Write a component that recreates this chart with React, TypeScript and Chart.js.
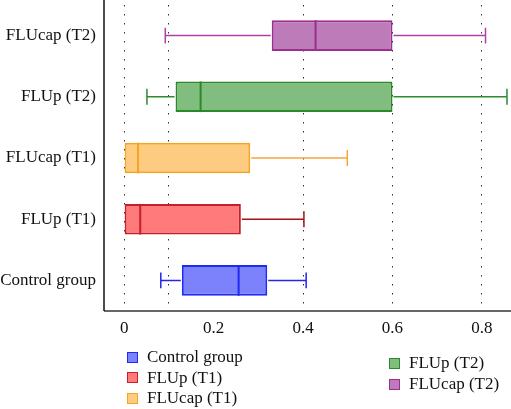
import React, { useEffect, useRef } from "react";
import { Chart, registerables } from "chart.js";

Chart.register(...registerables);

// Categories listed bottom-to-top (axis is reversed)
const categories = ["Control group", "FLUp (T1)", "FLUcap (T1)", "FLUp (T2)", "FLUcap (T2)"];
const whiskerMin = [0.082, 0.0, 0.0, 0.051, 0.092];
const q1 = [0.129, 0.0, 0.0, 0.115, 0.330];
const median = [0.256, 0.036, 0.031, 0.171, 0.428];
const q3 = [0.320, 0.261, 0.282, 0.600, 0.600];
const whiskerMax = [0.407, 0.402, 0.499, 0.856, 0.808];

const tickLabelValues = [0, 0.2, 0.4, 0.6, 0.8];
const gridValues = [0, 0.1, 0.4, 0.6, 0.8];

const fillColors = ["#7b82fb", "#ff7b7b", "#fdcc80", "#80bd7e", "#bd7bb9"];
const borderColors = ["#1f2bef", "#c81e2a", "#f5a524", "#2a8a2a", "#9b2f8f"];
const whiskerColors = ["#2424ee", "#a8101a", "#f5a53a", "#2e8b2e", "#b040a8"];

const legendCol1 = [0, 1, 2];
const legendCol2 = [3, 4];

const FONT = "'Liberation Serif', 'Times New Roman', serif";
const FONT_SIZE = 17;

const whiskerPlugin = {
  id: "whiskers",
  afterDatasetsDraw(chart: any) {
    const ctx = chart.ctx;
    const xs = chart.scales.x;
    const ys = chart.scales.y;
    const meta = chart.getDatasetMeta(0);
    ctx.save();
    categories.forEach((_, i) => {
      const bar = meta.data[i];
      const y = ys.getPixelForValue(i);
      const half = bar ? bar.height / 2 : 15;
      const cap = half * 0.52;
      const xMin = xs.getPixelForValue(whiskerMin[i]);
      const xQ1 = xs.getPixelForValue(q1[i]);
      const xQ3 = xs.getPixelForValue(q3[i]);
      const xMax = xs.getPixelForValue(whiskerMax[i]);
      const xMed = xs.getPixelForValue(median[i]);
      ctx.strokeStyle = whiskerColors[i];
      ctx.lineWidth = 1.5;
      ctx.beginPath();
      if (whiskerMin[i] < q1[i]) {
        ctx.moveTo(xMin, y);
        ctx.lineTo(xQ1 - 1, y);
        ctx.moveTo(xMin, y - cap);
        ctx.lineTo(xMin, y + cap);
      }
      if (whiskerMax[i] > q3[i]) {
        ctx.moveTo(xQ3 + 1, y);
        ctx.lineTo(xMax, y);
        ctx.moveTo(xMax, y - cap);
        ctx.lineTo(xMax, y + cap);
      }
      ctx.stroke();
      ctx.strokeStyle = borderColors[i];
      ctx.lineWidth = 2;
      ctx.beginPath();
      ctx.moveTo(xMed, y - half);
      ctx.lineTo(xMed, y + half);
      ctx.stroke();
    });
    ctx.restore();
  },
};

const axisLinePlugin = {
  id: "axisLine",
  afterDraw(chart: any) {
    const { ctx, chartArea } = chart;
    ctx.save();
    ctx.strokeStyle = "#333";
    ctx.lineWidth = 1.5;
    ctx.beginPath();
    ctx.moveTo(chartArea.left, chartArea.bottom);
    ctx.lineTo(chartArea.right, chartArea.bottom);
    ctx.stroke();
    ctx.strokeStyle = "#111";
    ctx.beginPath();
    ctx.moveTo(chartArea.left, 0);
    ctx.lineTo(chartArea.left, chartArea.bottom);
    ctx.stroke();
    ctx.restore();
  },
};

export default function App() {
  const ref = useRef<HTMLCanvasElement | null>(null);

  useEffect(() => {
    if (!ref.current) return;
    const chart = new Chart(ref.current, {
      type: "bar",
      data: {
        labels: categories,
        datasets: [
          {
            label: "box",
            data: categories.map((_, i) => [q1[i], q3[i]]) as any,
            backgroundColor: fillColors,
            borderColor: borderColors,
            borderWidth: 2,
            borderSkipped: false,
            barPercentage: 0.5,
            categoryPercentage: 1,
          },
        ],
      },
      options: {
        indexAxis: "y",
        responsive: false,
        animation: false,
        layout: { padding: { top: 5, right: 0, left: 0, bottom: 0 } },
        plugins: { legend: { display: false }, tooltip: { enabled: false } },
        scales: {
          x: {
            type: "linear",
            min: -0.045,
            max: 0.865,
            afterFit(scale: any) {
              scale.height = 98;
              scale.paddingLeft = 0;
              scale.paddingRight = 0;
            },
            afterBuildTicks(scale: any) {
              const vals = Array.from(new Set([...gridValues, ...tickLabelValues])).sort((a, b) => a - b);
              scale.ticks = vals.map((v) => ({ value: v }));
            },
            grid: {
              drawTicks: false,
              color: (c: any) =>
                c.tick && gridValues.includes(c.tick.value) ? "#333" : "rgba(0,0,0,0)",
              lineWidth: 1,
            },
            border: { display: false, dash: [1.5, 7.5] } as any,
            ticks: {
              padding: 7,
              color: "#111",
              font: { family: FONT, size: FONT_SIZE },
              autoSkip: false,
              maxRotation: 0,
              callback: (v: any) => (tickLabelValues.includes(v) ? String(v) : ""),
            },
          },
          y: {
            type: "category",
            reverse: true,
            afterFit(scale: any) {
              scale.width = 104;
              scale.paddingTop = 0;
              scale.paddingBottom = 0;
            },
            grid: { display: false, drawTicks: false },
            border: { display: false },
            ticks: {
              padding: 8,
              color: "#111",
              font: { family: FONT, size: FONT_SIZE },
            },
          },
        },
      },
      plugins: [whiskerPlugin, axisLinePlugin],
    });
    return () => chart.destroy();
  }, []);

  const item = (i: number, left: number, top: number) => (
    <div
      key={i}
      style={{
        position: "absolute",
        left,
        top,
        display: "flex",
        alignItems: "center",
        height: 20,
        fontFamily: FONT,
        fontSize: FONT_SIZE,
        color: "#111",
        whiteSpace: "nowrap",
      }}
    >
      <span
        style={{
          display: "inline-block",
          width: 9,
          height: 9,
          background: fillColors[i],
          border: `1.5px solid ${borderColors[i]}`,
          marginRight: 9,
        }}
      />
      <span>{categories[i]}</span>
    </div>
  );

  return (
    <div style={{ position: "absolute", left: 0, top: 0, width: 511, height: 409 }}>
      <canvas ref={ref} width={511} height={409} style={{ display: "block" }} />
      {legendCol1.map((i, k) => item(i, 127, 347 + k * 20.7))}
      {legendCol2.map((i, k) => item(i, 389, 353 + k * 21))}
    </div>
  );
}
